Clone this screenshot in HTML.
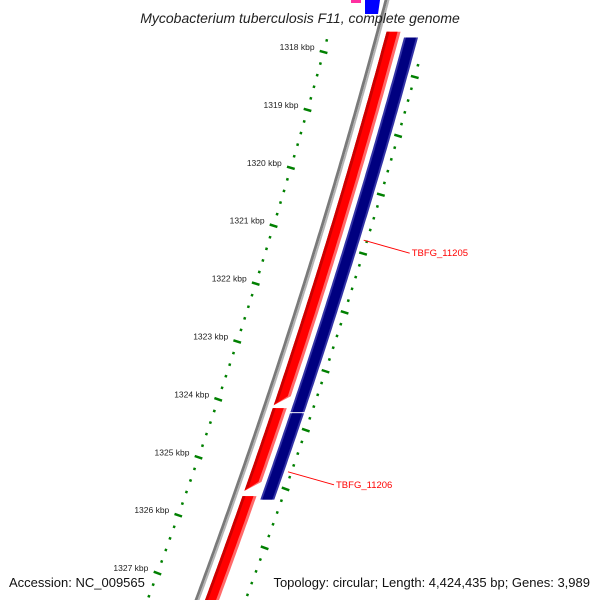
<!DOCTYPE html>
<html><head><meta charset="utf-8"><style>
html,body{margin:0;padding:0;background:#fff;}
svg{display:block;font-family:"Liberation Sans","DejaVu Sans",sans-serif;}
</style></head><body>
<svg id="map" width="600" height="600" viewBox="0 0 600 600">
<g id="backbone"></g>
<g id="features"></g>
<g id="ruler"></g>
<g id="labels"></g>
<text x="300" y="23" text-anchor="middle" font-size="14" font-style="italic" fill="#222">Mycobacterium tuberculosis F11, complete genome</text>
<text x="9" y="587" font-size="13" fill="#111">Accession: NC_009565</text>
<text x="590" y="587" text-anchor="end" font-size="13" fill="#111">Topology: circular; Length: 4,424,435 bp; Genes: 3,989</text>
</svg>
<script>
// ---- data ----
var tickKbp = [1318,1319,1320,1321,1322,1323,1324,1325,1326,1327];
var tickLabels = ["1318 kbp","1319 kbp","1320 kbp","1321 kbp","1322 kbp","1323 kbp","1324 kbp","1325 kbp","1326 kbp","1327 kbp"];
var fwdStarts = [1317.65, 1324.15, 1325.67];
var fwdEnds   = [1324.10, 1325.58, 1328.50];
var revStarts = [1317.75, 1324.24];
var revEnds   = [1324.22, 1325.73];
var geneNames = ["TBFG_11205","TBFG_11206"];
var geneLabelKbp = [1321.25, 1325.25];

// ---- axis functions ----
var NS="http://www.w3.org/2000/svg";
function yOf(k){ return 52 + (k-1318)*57.9; }
function yOuter(k){ return 77 + (k-1318)*58.85; }
function gx(y){ return 387 - 0.2632*y - 8.9e-5*y*y; }
function slope(y){ return -0.2632 - 1.78e-4*y; }
function band(y1,y2,o1,o2,fill,tipLen){
  var pts=[],y,step=4;
  for(y=y1;y<=y2;y+=step) pts.push([gx(y)+o1,y]);
  pts.push([gx(y2)+o1,y2]);
  var yr = tipLen? y2-tipLen : y2;
  pts.push([gx(yr)+o2,yr]);
  for(y=yr;y>=y1;y-=step) pts.push([gx(y)+o2,y]);
  pts.push([gx(y1)+o2,y1]);
  var p=document.createElementNS(NS,'polygon');
  p.setAttribute('points',pts.map(function(a){return a[0].toFixed(1)+','+a[1].toFixed(1);}).join(' '));
  p.setAttribute('fill',fill);
  return p;
}
var bb=document.getElementById('backbone');
var g1=band(-5,605,-2.5,0.5,'#7a7a7a',0);


bb.appendChild(g1);
var g2=band(-5,605,0.5,2.5,'#b5b5b5',0);


bb.appendChild(g2);

var fl=document.getElementById('features');
var i;
for(i=0;i<fwdStarts.length;i++){
  var a=Math.max(yOf(fwdStarts[i]),-5), b=Math.min(yOf(fwdEnds[i]),610);
  var tip = fwdEnds[i]<1328 ? 9 : 0;
  var g=document.createElementNS(NS,'g');
  
  
  g.appendChild(band(a,b,8,22,'#ff6a6a',tip));
  g.appendChild(band(a,b,8,19,'#ff0000',tip));
  g.appendChild(band(a,b-(tip?1:0),8,11,'#cc0000',tip?3:0));
  fl.appendChild(g);
}
for(i=0;i<revStarts.length;i++){
  var a2=yOf(revStarts[i]), b2=yOf(revEnds[i]);
  var gr=document.createElementNS(NS,'g');
  
  
  gr.appendChild(band(a2,b2,27,41,'#3333a6',0));
  gr.appendChild(band(a2,b2,29,39,'#000080',0));
  fl.appendChild(gr);
}
// top partial features
var tp=document.createElementNS(NS,'rect');
tp.setAttribute('x',351);tp.setAttribute('y',0);tp.setAttribute('width',10);tp.setAttribute('height',3);tp.setAttribute('fill','#ff2fa0');


fl.appendChild(tp);
var tb=document.createElementNS(NS,'polygon');
tb.setAttribute('points','365,0 380,0 378,14 365,14');tb.setAttribute('fill','#0000ff');


fl.appendChild(tb);

// rulers
var rl=document.getElementById('ruler');
function dash(x,y,len,w){
  var s=slope(y), nx=1, ny=-s, n=Math.sqrt(nx*nx+ny*ny);nx/=n;ny/=n;
  var l=document.createElementNS(NS,'line');
  l.setAttribute('x1',(x-nx*len/2).toFixed(1));l.setAttribute('y1',(y-ny*len/2).toFixed(1));
  l.setAttribute('x2',(x+nx*len/2).toFixed(1));l.setAttribute('y2',(y+ny*len/2).toFixed(1));
  l.setAttribute('stroke','#008000');l.setAttribute('stroke-width',w);
  return l;
}
var k,j;
for(k=1317;k<=1328;k++){
  for(j=0;j<5;j++){
    var kk=k+j/5, y=yOf(kk);
    if(y<30||y>605) continue;
    var d = j===0 ? dash(gx(y)-49.5,y,8,2.5) : dash(gx(y)-49.5,y,2.5,2.5);
    
    
    rl.appendChild(d);
    var yo=yOuter(kk);
    if(yo<0||yo>605) continue;
    var d2 = j===0 ? dash(gx(yo)+48.5,yo,8,2.5) : dash(gx(yo)+48.5,yo,2.5,2.5);
    
    
    rl.appendChild(d2);
  }
}
var lb=document.getElementById('labels');
for(i=0;i<tickKbp.length;i++){
  var ty=yOf(tickKbp[i]);
  var t=document.createElementNS(NS,'text');
  t.setAttribute('x',(gx(ty)-49.5-9).toFixed(1));
  t.setAttribute('y',(ty-2).toFixed(1));
  t.setAttribute('text-anchor','end');t.setAttribute('font-size','8.5');t.setAttribute('fill','#222');
  t.textContent=tickLabels[i];
  
  
  lb.appendChild(t);
}
for(i=0;i<geneNames.length;i++){
  var ly=yOf(geneLabelKbp[i]);
  var lx=gx(ly)+45;
  var ln=document.createElementNS(NS,'line');
  ln.setAttribute('x1',lx.toFixed(1));ln.setAttribute('y1',ly.toFixed(1));
  ln.setAttribute('x2',(lx+46).toFixed(1));ln.setAttribute('y2',(ly+13).toFixed(1));
  ln.setAttribute('stroke','#ff0000');ln.setAttribute('stroke-width','1');
  
  
  lb.appendChild(ln);
  var gt=document.createElementNS(NS,'text');
  gt.setAttribute('x',(lx+48).toFixed(1));gt.setAttribute('y',(ly+16).toFixed(1));
  gt.setAttribute('font-size','9.5');gt.setAttribute('fill','#ff0000');
  gt.textContent=geneNames[i];
  
  
  lb.appendChild(gt);
}
</script>
</body></html>
